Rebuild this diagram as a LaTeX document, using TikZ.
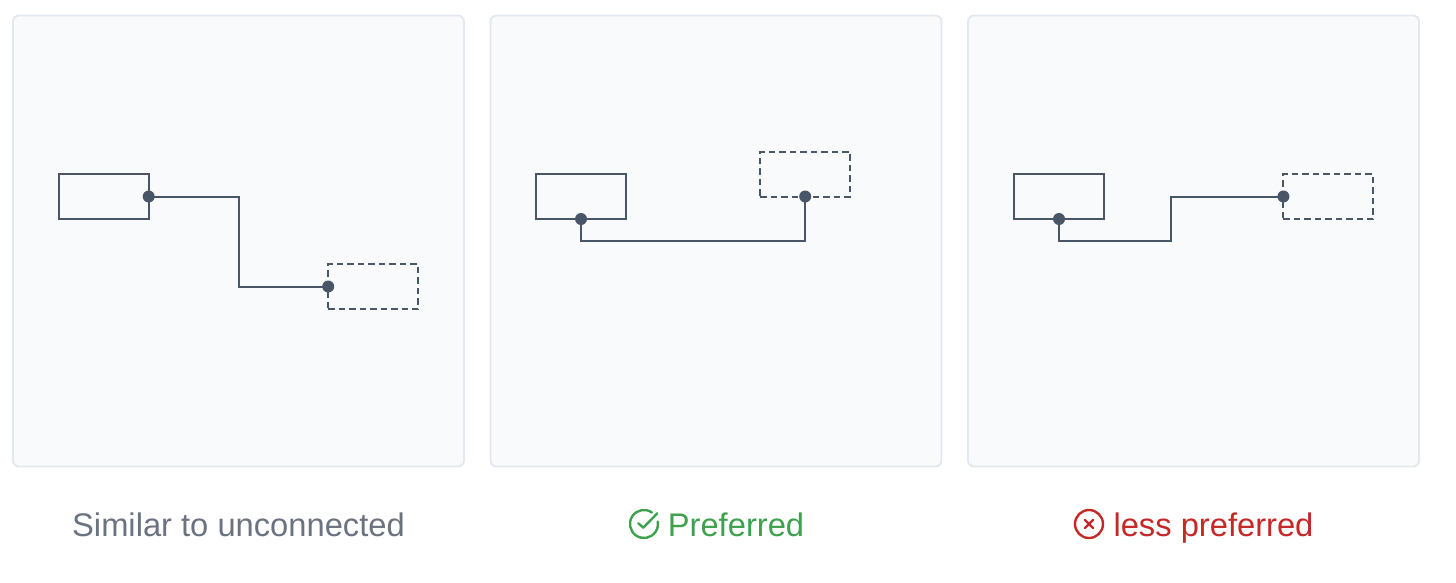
\documentclass[tikz,border=0pt]{standalone}
\usepackage{fontspec}
\setmainfont{Liberation Sans}
\usetikzlibrary{calc}

\definecolor{panelfill}{HTML}{F8FAFC}
\definecolor{paneledge}{HTML}{E2E8F0}
\definecolor{wire}{HTML}{4A5568}
\definecolor{graytext}{HTML}{6B7280}
\definecolor{goodgreen}{HTML}{3DA14D}
\definecolor{badred}{HTML}{C62828}

\tikzset{
  panel/.style={draw=paneledge, fill=panelfill, line width=1.8pt, rounded corners=6pt, minimum width=451pt, minimum height=451pt, inner sep=0},
  shapebox/.style={draw=wire, line width=2pt, minimum width=90pt, minimum height=45pt, inner sep=0, outer sep=0},
  ghostbox/.style={shapebox, dash pattern=on 6.5pt off 4pt},
  anchordot/.style={circle, fill=wire, minimum size=12pt, inner sep=0},
  wireline/.style={draw=wire, line width=2pt},
  caption/.style={font=\fontsize{32.7}{36}\selectfont, anchor=base, inner sep=0},
  iconline/.style={line width=2.4pt, line cap=round, line join=round}
}

\begin{document}
\begin{tikzpicture}[x=1pt, y=-1pt]
  \useasboundingbox (0,0) rectangle (1456,582);

  \node[panel] at (238.5,241) (panelA) {};
  \node[panel] at (716,241) (panelB) {};
  \node[panel] at (1193.5,241) (panelC) {};

  % first panel
  \node[shapebox] at (103.7,196.5) (boxA) {};
  \node[ghostbox] at (373.2,286.5) (ghostA) {};
  \node[anchordot] at (boxA.east) (startA) {};
  \node[anchordot] at (ghostA.west) (endA) {};
  \coordinate (midA) at (238.5,196.5);
  \draw[wireline] (startA.center) -- (midA) |- (endA.center);

  % second panel
  \node[shapebox] at (581,196.5) (boxB) {};
  \node[ghostbox] at (805.2,174) (ghostB) {};
  \node[anchordot] at (boxB.south) (startB) {};
  \node[anchordot] at (ghostB.south) (endB) {};
  \coordinate (lowB) at (581,241);
  \draw[wireline] (startB.center) -- (lowB) -| (endB.center);

  % third panel
  \node[shapebox] at (1059,196.5) (boxC) {};
  \node[ghostbox] at (1328.4,196.5) (ghostC) {};
  \node[anchordot] at (boxC.south) (startC) {};
  \node[anchordot] at (ghostC.west) (endC) {};
  \coordinate (lowC) at (1059,241);
  \coordinate (stepC) at (1171,241);
  \draw[wireline] (startC.center) -- (lowC) -- (stepC) |- (endC.center);

  % captions
  \node[caption, text=graytext] at (238.5,536) (captionA) {Similar to unconnected};
  \node[caption, text=goodgreen] at (736,536) (captionB) {Preferred};
  \node[caption, text=badred] at (1213.5,536) (captionC) {less preferred};

  % icons
  \coordinate (checkC) at (644,524);
  \draw[iconline, goodgreen] ($(checkC)+(8,-11.5)$) arc[start angle=55, end angle=370, x radius=14, y radius=-14];
  \draw[iconline, goodgreen] (638.3,523.3) -- (643.3,527.7) -- (657.3,513.3);

  \coordinate (crossC) at (1089,524);
  \draw[iconline, badred] (crossC) circle[radius=14];
  \draw[iconline, badred] ($(crossC)+(-4,-4)$) -- ($(crossC)+(4,4)$);
  \draw[iconline, badred] ($(crossC)+(-4,4)$) -- ($(crossC)+(4,-4)$);
\end{tikzpicture}
\end{document}
